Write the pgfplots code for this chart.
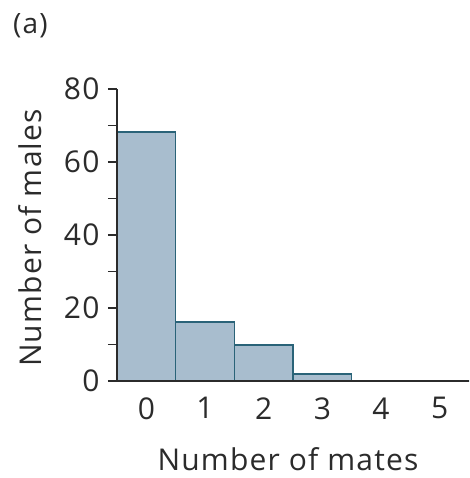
\documentclass[border=0pt]{standalone}
\usepackage{fontspec}
\setmainfont[LetterSpace=4]{Open Sans}
\usepackage{pgfplots}
\pgfplotsset{compat=1.18}
\definecolor{barfill}{HTML}{A8BDCE}
\definecolor{baredge}{HTML}{2A6378}
\definecolor{axisgray}{HTML}{2B2B2B}
\begin{document}
\begin{tikzpicture}
\begin{axis}[
  scale only axis,
  width=352pt, height=292pt,
  xmin=-0.5, xmax=5.5,
  ymin=0, ymax=80,
  axis lines*=left,
  axis line style={axisgray, line width=1.4pt},
  axis on top,
  ytick={0,20,40,60,80},
  minor ytick={10,30,50,70},
  xtick={0,1,2,3,4,5},
  x tick style={draw=none},
  y tick style={axisgray, line width=1.2pt},
  tick align=outside,
  major tick length=9pt,
  minor tick length=9pt,
  /pgf/number format/assume math mode=true,
  tick label style={font=\fontsize{30}{35}\selectfont, text=axisgray},
  yticklabel style={xshift=-5pt},
  xticklabel style={yshift=-4pt},
  ylabel={Number of males},
  label style={font=\fontsize{30}{35}\selectfont, text=axisgray},
  ylabel style={at={(axis description cs:-0.247,0.49)}, anchor=center},
  ybar, bar width=1, bar shift=0pt,
  clip=false,
]
\addplot[fill=barfill, draw=baredge, line width=1.3pt] coordinates {
  (0,68.2)(1,16.2)(2,9.9)(3,1.9)(4,0)(5,0)
};
\coordinate (o) at (rel axis cs:0,0);
\end{axis}
\node[anchor=center, inner sep=0pt, font=\fontsize{30}{35}\selectfont, text=axisgray] at ([shift={(171pt,-78pt)}]o) {Number of mates};
\node[anchor=north west, inner sep=0pt, font=\fontsize{28}{32}\selectfont, text=axisgray] at ([shift={(-104pt,368pt)}]o) {(a)};
\pgfresetboundingbox
\path ([shift={(-117pt,-97pt)}]o) rectangle ++(469pt,478pt);
\end{tikzpicture}
\end{document}
